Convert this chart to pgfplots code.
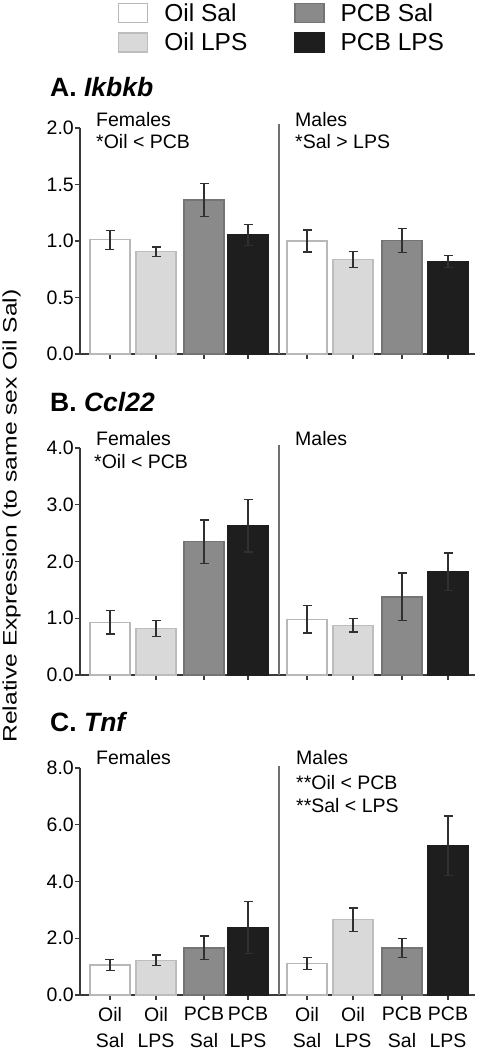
\documentclass[border=0pt]{standalone}
\usepackage{pgfplots}
\pgfplotsset{compat=1.18}
\usepackage{fontspec}
\setmainfont{Liberation Sans}
\usepackage{graphicx}
\definecolor{axgray}{HTML}{3A3A3A}
\definecolor{divgray}{HTML}{707070}
\definecolor{errgray}{HTML}{303030}
\definecolor{fOS}{HTML}{FFFFFF}\definecolor{dOS}{HTML}{B8B8B8}
\definecolor{fOL}{HTML}{D9D9D9}\definecolor{dOL}{HTML}{BDBDBD}
\definecolor{fPS}{HTML}{8A8A8A}\definecolor{dPS}{HTML}{747474}
\definecolor{fPL}{HTML}{1E1E1E}\definecolor{dPL}{HTML}{1E1E1E}
\newcommand{\tickfont}{\fontsize{19.5}{22.5}\selectfont}
\pgfplotsset{
  mybar/.style={ybar, bar width=40, bar shift=0pt, line width=1.2pt,
    error bars/.cd, y dir=both, y explicit, error mark=|,
    error bar style={color=errgray, line width=1.3pt},
    error mark options={color=errgray, line width=1.3pt, mark size=4.5pt},
    /pgfplots/.cd,
    legend image code/.code={\draw[##1,line width=1.2pt] (0pt,-9.5pt) rectangle (29pt,9.5pt);}},
  panel/.style={scale only axis, width=395pt, height=226pt,
    xmin=0, xmax=395, ymin=0, clip=false,
    axis lines*=left,
    axis line style={color=axgray, line width=1.4pt},
    tick align=outside, major tick length=5pt,
    tick style={color=axgray, line width=1.3pt},
    xtick={30,76,124,168,227,273,322,368},
    /pgf/number format/assume math mode=true,
    yticklabel style={/pgf/number format/.cd, fixed, fixed zerofill, precision=1, /tikz/.cd, font=\tickfont, inner xsep=1pt},
    xticklabel style={font=\tickfont, align=center, yshift=-3.5pt},
  },
}
\begin{document}
\begin{tikzpicture}
\useasboundingbox (0pt,0pt) rectangle (480pt,-1050pt);
% ---------- Panel A ----------
\begin{axis}[panel, at={(80pt,-354pt)}, anchor=south west, ymax=2, ytick={0,0.5,1,1.5,2}, xticklabels={},
  legend columns=2, transpose legend,
  legend style={at={(axis description cs:0.0962,1.553)}, anchor=north west, draw=none, fill=none,
    inner sep=0pt, row sep=9pt, column sep=0pt, font=\fontsize{24.5}{26}\selectfont,
    nodes={inner sep=0pt}, /tikz/every odd column/.append style={column sep=16pt}},
  legend cell align=left]
\addplot[mybar, fill=fOS, draw=dOS] coordinates {(30,1.01) +- (0,0.085) (227,1.0) +- (0,0.097)};
\addlegendentry{\makebox[130pt][l]{Oil Sal}}
\addplot[mybar, fill=fOL, draw=dOL] coordinates {(76,0.905) +- (0,0.042) (273,0.838) +- (0,0.07)};
\addlegendentry{\makebox[130pt][l]{Oil LPS}}
\addplot[mybar, fill=fPS, draw=dPS] coordinates {(124,1.363) +- (0,0.145) (322,1.003) +- (0,0.107)};
\addlegendentry{PCB Sal}
\addplot[mybar, fill=fPL, draw=dPL] coordinates {(168,1.053) +- (0,0.095) (368,0.817) +- (0,0.053)};
\addlegendentry{PCB LPS}
\draw[divgray, line width=1.4pt] (axis cs:199,0) -- ([yshift=4pt]axis cs:199,2);
\end{axis}
% ---------- Panel B ----------
\begin{axis}[panel, at={(80pt,-675pt)}, anchor=south west, height=227pt, ymax=4, ytick={0,1,2,3,4}, xticklabels={}]
\addplot[mybar, fill=fOS, draw=dOS] coordinates {(30,0.93) +- (0,0.21) (227,0.98) +- (0,0.24)};
\addplot[mybar, fill=fOL, draw=dOL] coordinates {(76,0.82) +- (0,0.14) (273,0.876) +- (0,0.12)};
\addplot[mybar, fill=fPS, draw=dPS] coordinates {(124,2.35) +- (0,0.38) (322,1.376) +- (0,0.42)};
\addplot[mybar, fill=fPL, draw=dPL] coordinates {(168,2.63) +- (0,0.46) (368,1.818) +- (0,0.33)};
\draw[divgray, line width=1.4pt] (axis cs:199,0) -- ([yshift=3pt]axis cs:199,4);
\end{axis}
% ---------- Panel C ----------
\begin{axis}[panel, at={(80pt,-995pt)}, anchor=south west, height=227pt, ymax=8, ytick={0,2,4,6,8},
  xticklabels={{Oil\\[4pt]Sal}, {Oil\\[4pt]LPS}, {PCB\\[4pt]Sal}, {PCB\\[4pt]LPS}, {Oil\\[4pt]Sal}, {Oil\\[4pt]LPS}, {PCB\\[4pt]Sal}, {PCB\\[4pt]LPS}}]
\addplot[mybar, fill=fOS, draw=dOS] coordinates {(30,1.06) +- (0,0.2) (227,1.106) +- (0,0.21)};
\addplot[mybar, fill=fOL, draw=dOL] coordinates {(76,1.22) +- (0,0.19) (273,2.65) +- (0,0.42)};
\addplot[mybar, fill=fPS, draw=dPS] coordinates {(124,1.66) +- (0,0.42) (322,1.66) +- (0,0.33)};
\addplot[mybar, fill=fPL, draw=dPL] coordinates {(168,2.38) +- (0,0.91) (368,5.26) +- (0,1.05)};
\draw[divgray, line width=1.4pt] (axis cs:199,0) -- ([yshift=2pt]axis cs:199,8);
\end{axis}
% ---------- titles and notes ----------
\begin{scope}[every node/.style={inner sep=0pt, anchor=base west}]
\node[font=\fontsize{26.5}{28}\selectfont\bfseries] at (50pt,-96.2pt) {A. \textit{Ikbkb}};
\node[font=\fontsize{26.5}{28}\selectfont\bfseries] at (50pt,-411.5pt) {B. \textit{Ccl22}};
\node[font=\fontsize{26.5}{28}\selectfont\bfseries] at (50pt,-731.5pt) {C. \textit{Tnf}};
\node[font=\tickfont] at (96pt,-126pt) {Females};
\node[font=\tickfont] at (96pt,-148.7pt) {*Oil < PCB};
\node[font=\tickfont] at (295pt,-126pt) {Males};
\node[font=\tickfont] at (295pt,-148.7pt) {*Sal > LPS};
\node[font=\tickfont] at (96pt,-445.3pt) {Females};
\node[font=\tickfont] at (94pt,-468.7pt) {*Oil < PCB};
\node[font=\tickfont] at (295pt,-445.3pt) {Males};
\node[font=\tickfont] at (96pt,-764.8pt) {Females};
\node[font=\tickfont] at (296pt,-764.8pt) {Males};
\node[font=\tickfont] at (296pt,-789.3pt) {**Oil < PCB};
\node[font=\tickfont] at (296pt,-812.7pt) {**Sal < LPS};
\end{scope}
\node[rotate=90, inner sep=0pt, font=\tickfont] at (11.5pt,-516pt) {\scalebox{1.263}[1]{Relative Expression (to same sex Oil Sal)}};
\end{tikzpicture}
\end{document}
